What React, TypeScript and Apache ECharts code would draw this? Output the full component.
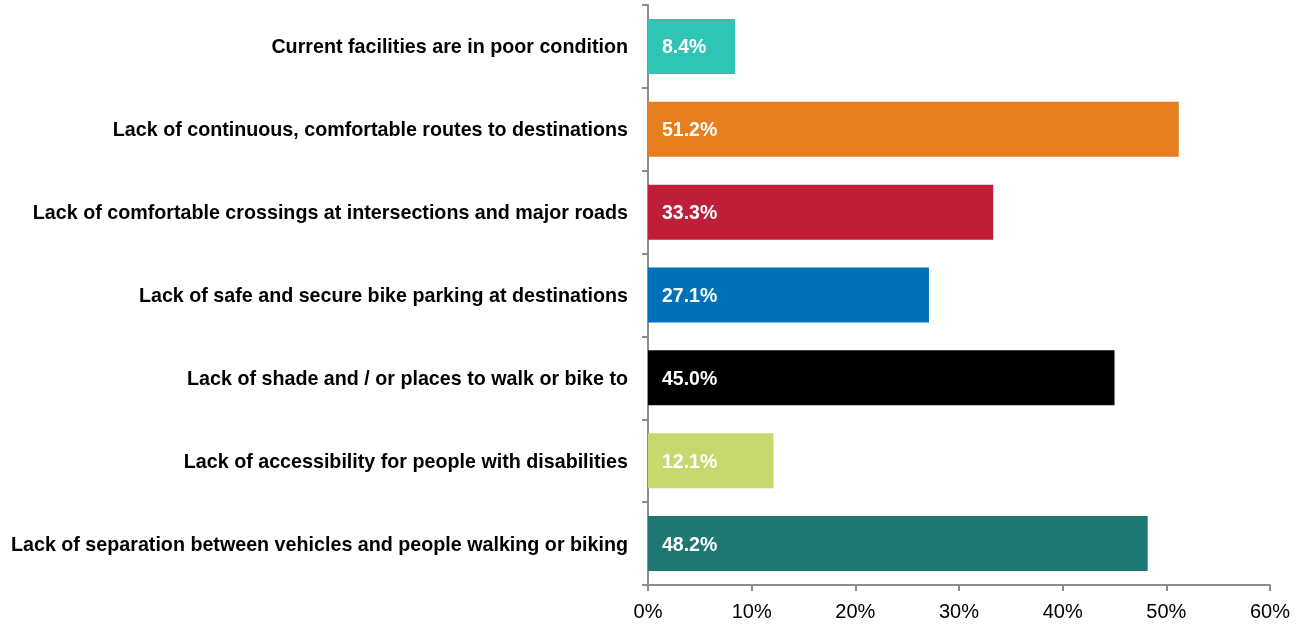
import React, { useEffect, useRef } from "react";
import * as echarts from "echarts";

const categories = [
  "Current facilities are in poor condition",
  "Lack of continuous, comfortable routes to destinations",
  "Lack of comfortable crossings at intersections and major roads",
  "Lack of safe and secure bike parking at destinations",
  "Lack of shade and / or places to walk or bike to",
  "Lack of accessibility for people with disabilities",
  "Lack of separation between vehicles and people walking or biking",
];
const values = [8.4, 51.2, 33.3, 27.1, 45.0, 12.1, 48.2];
const colors = ["#2FC4B4", "#E57E1E", "#BE1E37", "#0070B8", "#000000", "#C6D86E", "#1E7770"];
const xTicks = [0, 10, 20, 30, 40, 50, 60];

export default function App() {
  const ref = useRef<HTMLDivElement>(null);
  useEffect(() => {
    if (!ref.current) return;
    const chart = echarts.init(ref.current, null, { renderer: "svg" });
    const font = "'Liberation Sans', Arial, sans-serif";
    chart.setOption({
      animation: false,
      grid: { left: 648, right: 26, top: 5, bottom: 41, containLabel: false },
      xAxis: {
        type: "value",
        min: xTicks[0],
        max: xTicks[xTicks.length - 1],
        interval: 10,
        axisLine: { show: true, lineStyle: { color: "#8C8C8C", width: 2 } },
        axisTick: { show: true, length: 6, lineStyle: { color: "#8C8C8C", width: 2 } },
        splitLine: { show: false },
        axisLabel: {
          formatter: "{value}%",
          color: "#000",
          fontFamily: font,
          fontSize: 20,
          margin: 16,
        },
      },
      yAxis: {
        type: "category",
        inverse: true,
        data: categories,
        axisLine: { show: true, lineStyle: { color: "#8C8C8C", width: 2 } },
        axisTick: { show: true, length: 6, lineStyle: { color: "#8C8C8C", width: 2 } },
        axisLabel: {
          color: "#000",
          fontFamily: font,
          fontWeight: "bold",
          fontSize: 19.7,
          margin: 20,
        },
      },
      series: [
        {
          type: "bar",
          data: values.map((v, i) => ({ value: v, itemStyle: { color: colors[i] } })),
          barWidth: 55,
          label: {
            show: true,
            position: "insideLeft",
            distance: 14,
            color: "#fff",
            fontFamily: font,
            fontWeight: "bold",
            fontSize: 19.5,
            formatter: (p: any) => p.value.toFixed(1) + "%",
          },
        },
      ],
    });
    return () => chart.dispose();
  }, []);
  return (
    <div
      ref={ref}
      style={{ position: "fixed", left: 0, top: 0, width: 1296, height: 626 }}
    />
  );
}
